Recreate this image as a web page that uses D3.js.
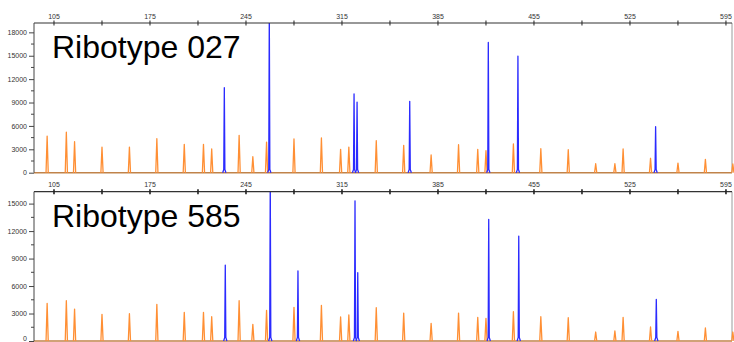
<!DOCTYPE html>
<html>
<head>
<meta charset="utf-8">
<script src="https://cdn.jsdelivr.net/npm/d3@7"></script>
<style>
  body { margin: 0; background: #fff; }
  svg { display: block; font-family: "Liberation Sans", Arial, sans-serif; }
</style>
</head>
<body>
<div id="chart"></div>
<script>
// size standard fragments (bp), same in both runs
const sizeStd = [100, 114, 120, 140, 160, 180, 200, 214, 220, 240,
                 250, 260, 280, 300, 314, 320, 340, 360, 380, 400,
                 414, 420, 440, 460, 480, 500, 514, 520, 540, 560,
                 580, 600];
// orange (size standard) peak heights, RFU
const std027 = [4700, 5200, 3980, 3290, 3290, 4360, 3640, 3640, 3040, 4790,
                2050, 3930, 4320, 4450, 3000, 3290, 4100, 3510, 2270, 3590,
                3000, 2820, 3680, 3080, 2950, 1150, 1150, 3040, 1850, 1240,
                1720, 1120];
const std585 = [4110, 4400, 3490, 2910, 2980, 4000, 3130, 3130, 2650, 4400,
                1820, 3350, 3680, 3890, 2620, 2840, 3640, 3050, 1930, 3050,
                2590, 2470, 3200, 2650, 2540, 980, 1090, 2590, 1530, 1060,
                1420, 980];
// blue sample peaks
const blueSize027 = [229.2, 262, 323.8, 326, 364.4, 421.7, 443.3, 543.7];
const blueHt027   = [10900, 20500, 10100, 9060, 9150, 16700, 14960, 5900];
const blueSize585 = [229.9, 262.7, 282.9, 324.5, 326.5, 422, 443.9, 544.2];
const blueHt585   = [8290, 17500, 7640, 15300, 7450, 13280, 11450, 4550];
// axis ticks
const xTickLabels = [105, 175, 245, 315, 385, 455, 525, 595];
const xMinorTicks = [140, 210, 280, 350, 420, 490, 560];

const width = 734, height = 342;
const left = 34, right = 732;

const panels = [
  {title: "Ribotype 027", top: 23, zero: 172.7, yMax: 19200, yTicks: d3.range(0, 18001, 3000),
   std: std027, bSize: blueSize027, bHt: blueHt027, labelY: 18.5, tickW: 1},
  {title: "Ribotype 585", top: 191.7, zero: 341, yMax: 16300, yTicks: d3.range(0, 15001, 3000),
   std: std585, bSize: blueSize585, bHt: blueHt585, labelY: 187, tickW: 1.6}
];

const svg = d3.select("#chart").append("svg")
    .attr("width", width)
    .attr("height", height);

let x = d3.scaleLinear().domain([90.42, 599.4]).range([left, right]);

panels.forEach((p, i) => {
  let y = d3.scaleLinear().domain([0, p.yMax]).range([p.zero, p.top]);
  let g = svg.append("g");

  // clip
  let clipId = "clip" + i;
  svg.append("clipPath").attr("id", clipId)
    .append("rect")
    .attr("x", left).attr("y", p.top)
    .attr("width", right - left + 2).attr("height", p.zero - p.top + 2);

  // frame
  g.append("line").attr("x1", right).attr("x2", right).attr("y1", p.top).attr("y2", p.zero)
    .attr("stroke", "#9a9a9a");

  let plot = g.append("g").attr("clip-path", "url(#" + clipId + ")");

  // baseline
  plot.append("line")
    .attr("x1", left).attr("x2", right)
    .attr("y1", y(0)).attr("y2", y(0))
    .attr("stroke", "#c0834a").attr("stroke-width", 1.6);

  let peak = d3.line().x(d => x(d[0])).y(d => y(d[1]));

  // orange size standard peaks
  plot.selectAll(".std")
    .data(sizeStd.map((s, k) => [s, p.std[k]]))
    .enter().append("path")
    .attr("class", "std")
    .attr("d", d => peak([[d[0] - 0.8, 0], [d[0], d[1]], [d[0] + 0.8, 0]]))
    .attr("fill", "none")
    .attr("stroke", "#ff8f34")
    .attr("stroke-width", 1.3)
    .attr("stroke-linejoin", "round");

  // blue sample peaks
  plot.selectAll(".blue")
    .data(p.bSize.map((s, k) => [s, p.bHt[k]]))
    .enter().append("path")
    .attr("class", "blue")
    .attr("d", d => peak([[d[0] - 1.2, 0], [d[0] - 0.4, 400], [d[0], d[1]], [d[0] + 0.4, 400], [d[0] + 1.2, 0]]))
    .attr("fill", "none")
    .attr("stroke", "#2b2bff")
    .attr("stroke-width", 1.3)
    .attr("stroke-linejoin", "round");

  // top axis
  g.append("line").attr("x1", left).attr("x2", right).attr("y1", p.top).attr("y2", p.top)
    .attr("stroke", "#333").attr("stroke-width", 1.2);
  g.selectAll(".xt")
    .data(xTickLabels.concat(xMinorTicks))
    .enter().append("line")
    .attr("x1", d => x(d)).attr("x2", d => x(d))
    .attr("y1", p.top - 2.5).attr("y2", p.top + 2.5)
    .attr("stroke", "#222").attr("stroke-width", p.tickW);
  g.selectAll(".xl")
    .data(xTickLabels)
    .enter().append("text")
    .attr("x", d => x(d)).attr("y", p.labelY)
    .attr("text-anchor", "middle")
    .style("font-size", "7px")
    .style("fill", "#333")
    .text(d => d);

  // left axis
  let yAxis = d3.axisLeft(y).tickValues(p.yTicks).tickFormat(d3.format("d")).tickSize(5).tickPadding(2);
  let ya = g.append("g").attr("transform", "translate(" + left + ",0)").call(yAxis);
  ya.select(".domain").attr("d", "M0," + p.top + "V" + p.zero).attr("stroke", "#444");
  ya.selectAll("text").style("font-size", "7px").style("fill", "#333")
    .style("font-family", "Liberation Sans, Arial, sans-serif");
  ya.selectAll(".tick line").attr("stroke", "#444");
  // keep the lowest label inside the picture
  if (p.zero > height - 4) {
    ya.selectAll(".tick text").filter(d => d === 0).attr("dy", "-0.1em");
  }
  g.selectAll(".ym")
    .data(p.yTicks.map(v => v + 1500).filter(v => v < p.yMax))
    .enter().append("line")
    .attr("x1", left - 3).attr("x2", left)
    .attr("y1", d => y(d)).attr("y2", d => y(d))
    .attr("stroke", "#444");

  // title
  g.append("text")
    .attr("x", 52).attr("y", p.top + 35)
    .style("font-size", "32px")
    .style("fill", "#000")
    .text(p.title);
});
</script>
</body>
</html>
